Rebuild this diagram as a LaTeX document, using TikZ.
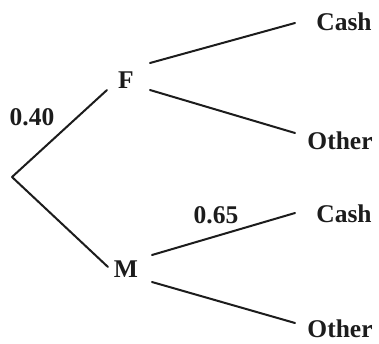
\documentclass[tikz,border=0pt]{standalone}
\usepackage{fontspec}
\setmainfont{Liberation Serif}
\definecolor{ink}{RGB}{28,28,28}
\begin{document}
\begin{tikzpicture}[x=1pt,y=-1pt,
  lbl/.style={inner sep=0pt,text=ink,font=\fontsize{25.5}{30}\selectfont\bfseries},
  branch/.style={draw=ink,line width=2pt,line cap=round}]
\useasboundingbox[fill=white] (0,0) rectangle (379,343);
\coordinate (R) at (12,177);
\node[lbl] (F) at (126,80) {F};
\node[lbl] (M) at (126,269) {M};
\node[lbl] (C1) at (344,22) {Cash};
\node[lbl] (O1) at (340,141) {Other};
\node[lbl] (C2) at (344,214) {Cash};
\node[lbl] (O2) at (340,329) {Other};
\node[lbl] (p1) at (32,117) {0.40};
\node[lbl] (p2) at (216,215) {0.65};
\draw[branch] (R) -- ([shift={(-19,10)}]F.center);
\draw[branch] (R) -- ([shift={(-18,-2)}]M.center);
\draw[branch] ([shift={(24,-17)}]F.center) -- ([shift={(-49,1)}]C1.center);
\draw[branch] ([shift={(24,10)}]F.center) -- ([shift={(-45,-8)}]O1.center);
\draw[branch] ([shift={(26,-14)}]M.center) -- ([shift={(-49,-1)}]C2.center);
\draw[branch] ([shift={(26,13)}]M.center) -- ([shift={(-45,-6)}]O2.center);
\end{tikzpicture}
\end{document}
